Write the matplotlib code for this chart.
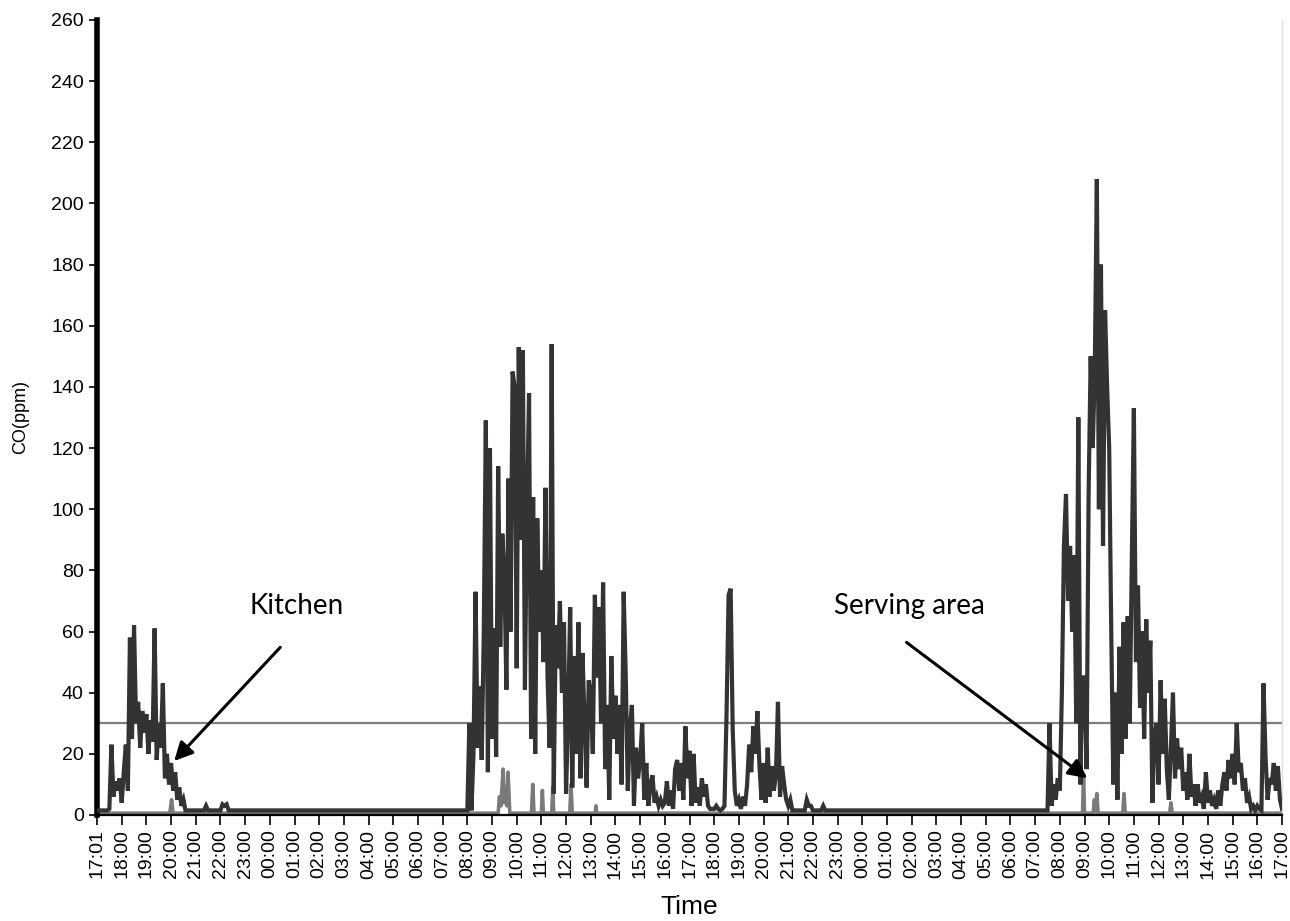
# CO concentration time series, kitchen vs serving area
import matplotlib
matplotlib.use('Agg')
import matplotlib.pyplot as plt
import numpy as np

plt.rcParams['font.family'] = 'Liberation Sans'

# time axis labels, one per hour, 17:01 day 1 to 17:00 day 3
hour_labels = (['17:01'] + ['%02d:00' % h for h in range(18, 24)]
               + ['%02d:00' % h for h in range(0, 24)]
               + ['%02d:00' % h for h in range(0, 18)])

# kitchen readings, 5-minute values (ppm), hours counted from 17:00 day 1
kitchen_eve_start = 0.0    # 17:00 day 1
kitchen_eve = [
    1.5, 1.5, 1.5, 1.5, 1.5, 1.5, 2, 23, 6, 11, 8, 12,          # 17:00
    4, 14, 23, 8, 58, 25, 62, 30, 37, 22, 34, 27,               # 18:00
    33, 20, 31, 24, 61, 18, 30, 22, 43, 12, 20, 10,             # 19:00
    17, 8, 14, 5, 9, 3, 5, 1.5, 1.5, 1.5, 1.5, 1.5,             # 20:00
    1.5, 1.5, 1.5, 1.5, 1.5, 3, 1.5, 1.5, 1.5, 1.5, 1.5, 1.5,   # 21:00
    1.5, 3.5, 3, 3.5, 1.5, 1.5,                                 # 22:00
]

kitchen_day2_start = 15.0  # 08:00 day 2
kitchen_day2 = [
    1.5, 30, 1.5, 20, 73, 22, 42, 18, 60, 129, 14, 120,         # 08:00
    25, 61, 19, 114, 55, 92, 79, 41, 110, 60, 145, 140,         # 09:00
    48, 153, 90, 152, 41, 100, 138, 25, 104, 20, 97, 60,        # 10:00
    80, 50, 107, 45, 22, 154, 7, 62, 48, 70, 40, 63,            # 11:00
    7, 33, 68, 9, 52, 20, 63, 12, 53, 30, 9, 44,                # 12:00
    40, 20, 72, 45, 68, 30, 76, 15, 36, 5, 52, 25,              # 13:00
    39, 20, 36, 10, 73, 46, 8, 28, 36, 3, 22, 12,               # 14:00
    18, 30, 5, 17, 3, 10, 13, 4, 6, 3, 5, 3,                    # 15:00
    4, 11, 3, 8, 2, 15, 18, 8, 17, 5, 29, 12,                   # 16:00
    21, 3, 20, 4, 9, 3, 12, 6, 10, 3, 2, 2,                     # 17:00
    2, 3, 2, 1.5, 2, 3, 33, 72, 74, 28, 8, 3,                   # 18:00
    5, 2, 6, 3, 10, 23, 14, 29, 20, 34, 16, 5,                  # 19:00
    17, 4, 22, 6, 16, 8, 13, 37, 6, 16, 10, 5,                  # 20:00
    3, 5, 1.5, 1.5, 1.5, 1.5, 1.5, 1.5, 1.5, 5, 3, 3,           # 21:00
    1.5, 1.5, 1.5, 1.5, 1.5, 3, 1.5,                            # 22:00
]

kitchen_day3_start = 38.5  # 07:30 day 3
kitchen_day3 = [
    1.5, 30, 3, 10, 5, 12,                                      # 07:30
    8, 40, 88, 105, 70, 88, 60, 85, 30, 130, 10, 45,            # 08:00
    45, 15, 105, 150, 120, 145, 208, 100, 180, 88, 165, 140,    # 09:00
    120, 60, 10, 40, 5, 55, 20, 63, 25, 65, 30, 84,             # 10:00
    133, 50, 75, 35, 60, 25, 64, 40, 57, 4, 25, 30,             # 11:00
    10, 44, 20, 38, 15, 5, 22, 40, 12, 25, 15, 22,              # 12:00
    8, 14, 5, 20, 6, 10, 3, 10, 4, 6, 2, 14,                    # 13:00
    4, 8, 3, 5, 2, 8, 3, 10, 14, 8, 18, 12,                     # 14:00
    20, 10, 30, 14, 17, 8, 12, 4, 6, 2, 3, 1.5,                 # 15:00
    3, 2, 1.5, 43, 19, 5, 12, 10, 17, 8, 16, 5,                 # 16:00
    2,                                                          # 17:00
]

# serving area readings (ppm), mostly at background level
serving_t = [0.0, 2.95, 3.02, 3.08,
             16.25, 16.3, 16.36, 16.45, 16.5, 16.55, 16.6, 16.65, 16.72,
             17.6, 17.65, 17.7, 18.0, 18.04, 18.08, 18.42, 18.46, 18.5,
             19.15, 19.2, 19.25, 20.18, 20.21, 20.24,
             39.92, 39.96, 40.0, 40.35, 40.4, 40.45, 40.5, 40.55,
             41.55, 41.6, 41.65, 43.45, 43.5, 43.55, 48.0]
serving_v = [0.6, 0.6, 5, 0.6,
             0.6, 6, 3, 15, 4, 9, 3, 14, 0.6,
             0.6, 10, 0.6, 0.6, 8, 0.6, 0.6, 9, 0.6,
             0.6, 10, 0.6, 0.6, 3, 0.6,
             0.6, 13, 0.6, 0.6, 5, 1, 7, 0.6,
             0.6, 7, 0.6, 0.6, 4, 0.6, 0.6]

limit_ppm = 30


def block_times(start, values):
    return start + np.arange(len(values)) * 5 / 60.0


kit_t = np.concatenate([block_times(kitchen_eve_start, kitchen_eve),
                        block_times(kitchen_day2_start, kitchen_day2),
                        block_times(kitchen_day3_start, kitchen_day3)])
kit_v = np.concatenate([kitchen_eve, kitchen_day2, kitchen_day3])

fig = plt.figure(figsize=(12.9, 9.21), dpi=100)
ax = fig.add_axes([0.0752, 0.1151, 0.9186, 0.8632])

ax.axhline(limit_ppm, color='#7f7f7f', linewidth=1.6, zorder=1)
ax.plot(serving_t, serving_v, color='#7a7a7a', linewidth=2.6, zorder=2)
ax.plot(kit_t, kit_v, color='#333333', linewidth=3.0, zorder=3,
        solid_joinstyle='miter')

ax.set_xlim(0, 48)
ax.set_ylim(0, 260)
ax.set_yticks(np.arange(0, 261, 20))
ax.set_xticks(np.arange(0, 49))
ax.set_xticklabels(hour_labels, rotation=90, fontsize=14)
ax.tick_params(axis='y', labelsize=14, direction='out', length=6, width=1.2)
ax.tick_params(axis='x', direction='out', length=7, width=1.2)

ax.spines['left'].set_linewidth(4)
ax.spines['bottom'].set_linewidth(1.6)
ax.spines['top'].set_visible(False)
ax.spines['right'].set_color('#e0e0e0')
ax.spines['right'].set_linewidth(1)

ax.set_ylabel('CO(ppm)', fontsize=13, labelpad=16)
ax.set_xlabel('Time', fontsize=19, labelpad=12)

ax.annotate('', xy=(3.05, 17), xytext=(7.5, 55.5),
            arrowprops=dict(arrowstyle='-|>', color='black', lw=2.2, mutation_scale=28))
ax.text(8.1, 68.5, 'Kitchen', ha='center', va='center', fontsize=20, family='Lato')
ax.annotate('', xy=(40.2, 11.5), xytext=(32.7, 57),
            arrowprops=dict(arrowstyle='-|>', color='black', lw=2.2, mutation_scale=28))
ax.text(32.9, 68.5, 'Serving area', ha='center', va='center', fontsize=20, family='Lato')

plt.savefig('out.png', dpi=100)
plt.close()
